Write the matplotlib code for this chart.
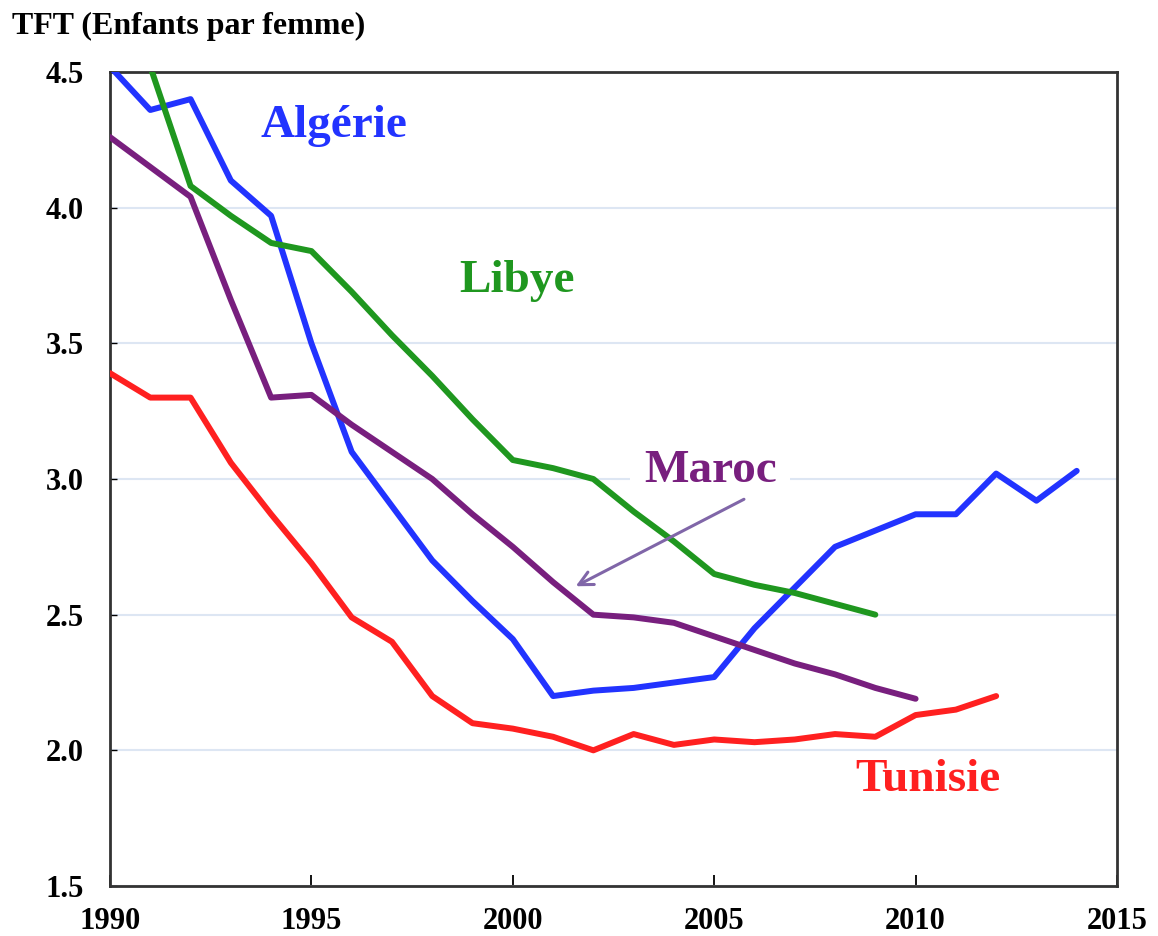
# coding=utf-8
# TFT (enfants par femme), Maghreb 1990-2014
import matplotlib
matplotlib.use("Agg")
import matplotlib.pyplot as plt

plt.rcParams['font.family'] = ['Liberation Serif', 'DejaVu Serif']
plt.rcParams['font.weight'] = 'bold'

# annees
years_alg = list(range(1990, 2015))
years_lib = list(range(1990, 2010))
years_mar = list(range(1990, 2011))
years_tun = list(range(1990, 2013))

# valeurs
alg = [4.52, 4.36, 4.40, 4.10, 3.97, 3.50, 3.10, 2.90, 2.70, 2.55, 2.41, 2.20,
       2.22, 2.23, 2.25, 2.27, 2.45, 2.60, 2.75, 2.81, 2.87, 2.87, 3.02, 2.92, 3.03]
lib = [4.95, 4.52, 4.08, 3.97, 3.87, 3.84, 3.69, 3.53, 3.38, 3.22, 3.07, 3.04,
       3.00, 2.88, 2.77, 2.65, 2.61, 2.58, 2.54, 2.50]
mar = [4.26, 4.15, 4.04, 3.66, 3.30, 3.31, 3.20, 3.10, 3.00, 2.87, 2.75, 2.62,
       2.50, 2.49, 2.47, 2.42, 2.37, 2.32, 2.28, 2.23, 2.19]
tun = [3.39, 3.30, 3.30, 3.06, 2.87, 2.69, 2.49, 2.40, 2.20, 2.10, 2.08, 2.05,
       2.00, 2.06, 2.02, 2.04, 2.03, 2.04, 2.06, 2.05, 2.13, 2.15, 2.20]

c_alg = '#2233ff'
c_lib = '#1f971f'
c_mar = '#781f7e'
c_tun = '#ff2020'

fig = plt.figure(figsize=(11.58, 9.36), dpi=100)
ax = fig.add_axes([110/1158, 1-886/936, (1117-110)/1158, (886-72)/936])

lw = 4.3
ax.plot(years_tun, tun, color=c_tun, lw=lw, zorder=3, solid_capstyle='round')
ax.plot(years_alg, alg, color=c_alg, lw=lw, zorder=3, solid_capstyle='round')
ax.plot(years_mar, mar, color=c_mar, lw=lw, zorder=3, solid_capstyle='round')
ax.plot(years_lib, lib, color=c_lib, lw=lw, zorder=3, solid_capstyle='round')

ax.set_xlim(1990, 2015)
ax.set_ylim(1.5, 4.5)
ax.set_xticks(range(1990, 2016, 5))
ax.set_yticks([1.5, 2.0, 2.5, 3.0, 3.5, 4.0, 4.5])
ax.set_yticklabels(['1.5', '2.0', '2.5', '3.0', '3.5', '4.0', '4.5'])
ax.grid(axis='y', color='#dde6f3', lw=1.5, zorder=0)
ax.tick_params(axis='x', direction='in', length=8, width=1.3, labelsize=22, pad=15)
ax.tick_params(axis='y', direction='in', length=5, width=1, labelsize=22, pad=19)
for s in ax.spines.values():
    s.set_linewidth(2)
    s.set_color('#333333')

# etiquettes des pays
fs = 34
ax.text(1995.55, 4.30, 'Algérie', color=c_alg, fontsize=fs, ha='center', va='center', fontweight='bold')
ax.text(2000.1, 3.73, 'Libye', color=c_lib, fontsize=fs, ha='center', va='center', fontweight='bold')
ax.text(2004.9, 3.03, 'Maroc', color=c_mar, fontsize=fs, ha='center', va='center', fontweight='bold',
        bbox=dict(facecolor='white', edgecolor='none', pad=10), zorder=2)
ax.text(2010.3, 1.89, 'Tunisie', color=c_tun, fontsize=fs, ha='center', va='center', fontweight='bold')

ax.annotate('', xy=(2001.5, 2.60), xytext=(2005.8, 2.93),
            arrowprops=dict(arrowstyle='->', color='#8066a8', lw=2.2, mutation_scale=25), zorder=4)

fig.text(12/1158, 1-12/936, 'TFT (Enfants par femme)', fontsize=23, fontweight='bold',
         ha='left', va='top')

fig.savefig('out.png', dpi=100, facecolor='white')
